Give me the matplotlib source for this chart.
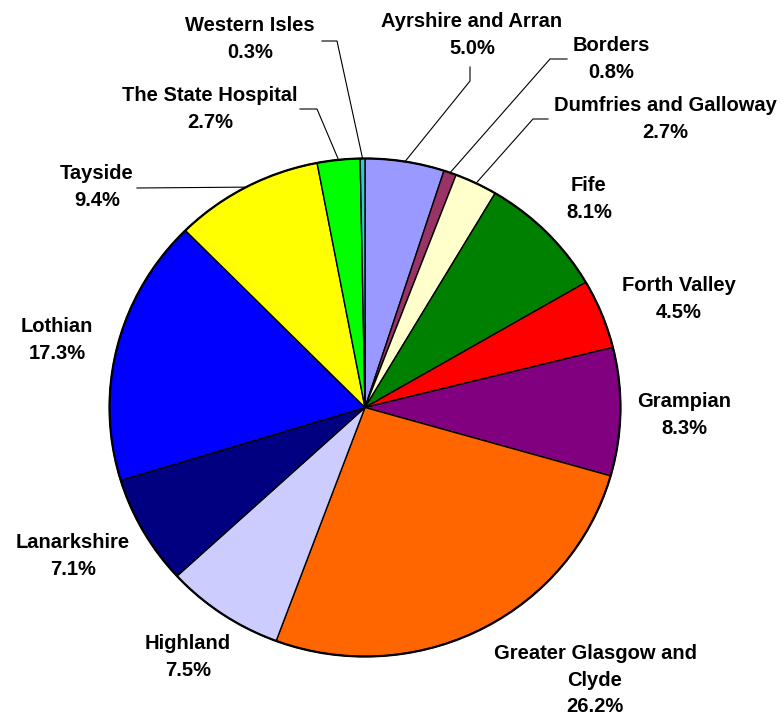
import numpy as np
import matplotlib
matplotlib.use("Agg")
import matplotlib.pyplot as plt
from matplotlib.lines import Line2D
from matplotlib.patches import Ellipse

# Share of total by NHS board, clockwise from 12 o'clock
boards = ["Ayrshire and Arran", "Borders", "Dumfries and Galloway", "Fife",
          "Forth Valley", "Grampian", "Greater Glasgow and\nClyde", "Highland",
          "Lanarkshire", "Lothian", "Tayside", "The State Hospital", "Western Isles"]
shares = [5.0, 0.8, 2.7, 8.1, 4.5, 8.3, 26.2, 7.5, 7.1, 17.3, 9.4, 2.7, 0.3]
colours = ["#9999FF", "#993366", "#FFFFCC", "#008000", "#FF0000", "#800080",
           "#FF6600", "#CCCCFF", "#000080", "#0000FF", "#FFFF00", "#00FF00", "#33CCCC"]

# label centre positions in pixels (x, y from top)
label_pos = [(472, 35), (611, 59), (665, 119), (589, 199), (679, 299), (684, 415),
             (595, 680), (188, 657), (73, 556), (57, 340), (97, 187), (210, 109), (250, 39)]
# elbow of leader lines in pixels: (start, corner)
leaders = {0: [(470, 67), (470, 81)],
           1: [(567, 59), (550, 59)],
           2: [(548, 119), (533, 119)],
           10: [(137, 188), (137, 188)],
           11: [(300, 109), (317, 109)],
           12: [(322, 41), (337, 41)]}

W, H = 782, 717
fig = plt.figure(figsize=(W / 100, H / 100), dpi=100)
fig.patch.set_facecolor("white")

# pie box in pixels
left, top, right, bottom = 107, 156, 623, 659
ax = fig.add_axes([left / W, 1 - bottom / H, (right - left) / W, (bottom - top) / H])
wedges, _ = ax.pie(shares, colors=colours, startangle=90, counterclock=False,
                   wedgeprops=dict(edgecolor="black", linewidth=1.0))
ax.add_patch(Ellipse((0, 0), 2, 2, fill=False, edgecolor="black", linewidth=1.6))
ax.set_aspect("auto")
ax.set_xlim(-1.01, 1.01)
ax.set_ylim(-1.01, 1.01)
ax.axis("off")

for i, (name, val) in enumerate(zip(boards, shares)):
    x, y = label_pos[i]
    fig.text(x / W, 1 - y / H, f"{name}\n{val:.1f}%", ha="center", va="center",
             fontsize=14.5, fontweight="bold", family="Liberation Sans",
             linespacing=1.5)

fig.canvas.draw()
for i, pts in leaders.items():
    w = wedges[i]
    mid = np.deg2rad((w.theta1 + w.theta2) / 2)
    px, py = ax.transData.transform((np.cos(mid), np.sin(mid)))
    fx, fy = fig.transFigure.inverted().transform((px, py))
    xs = [p[0] / W for p in pts] + [fx]
    ys = [1 - p[1] / H for p in pts] + [fy]
    fig.add_artist(Line2D(xs, ys, color="black", linewidth=0.8,
                          transform=fig.transFigure))

fig.savefig("out.png", dpi=100)
